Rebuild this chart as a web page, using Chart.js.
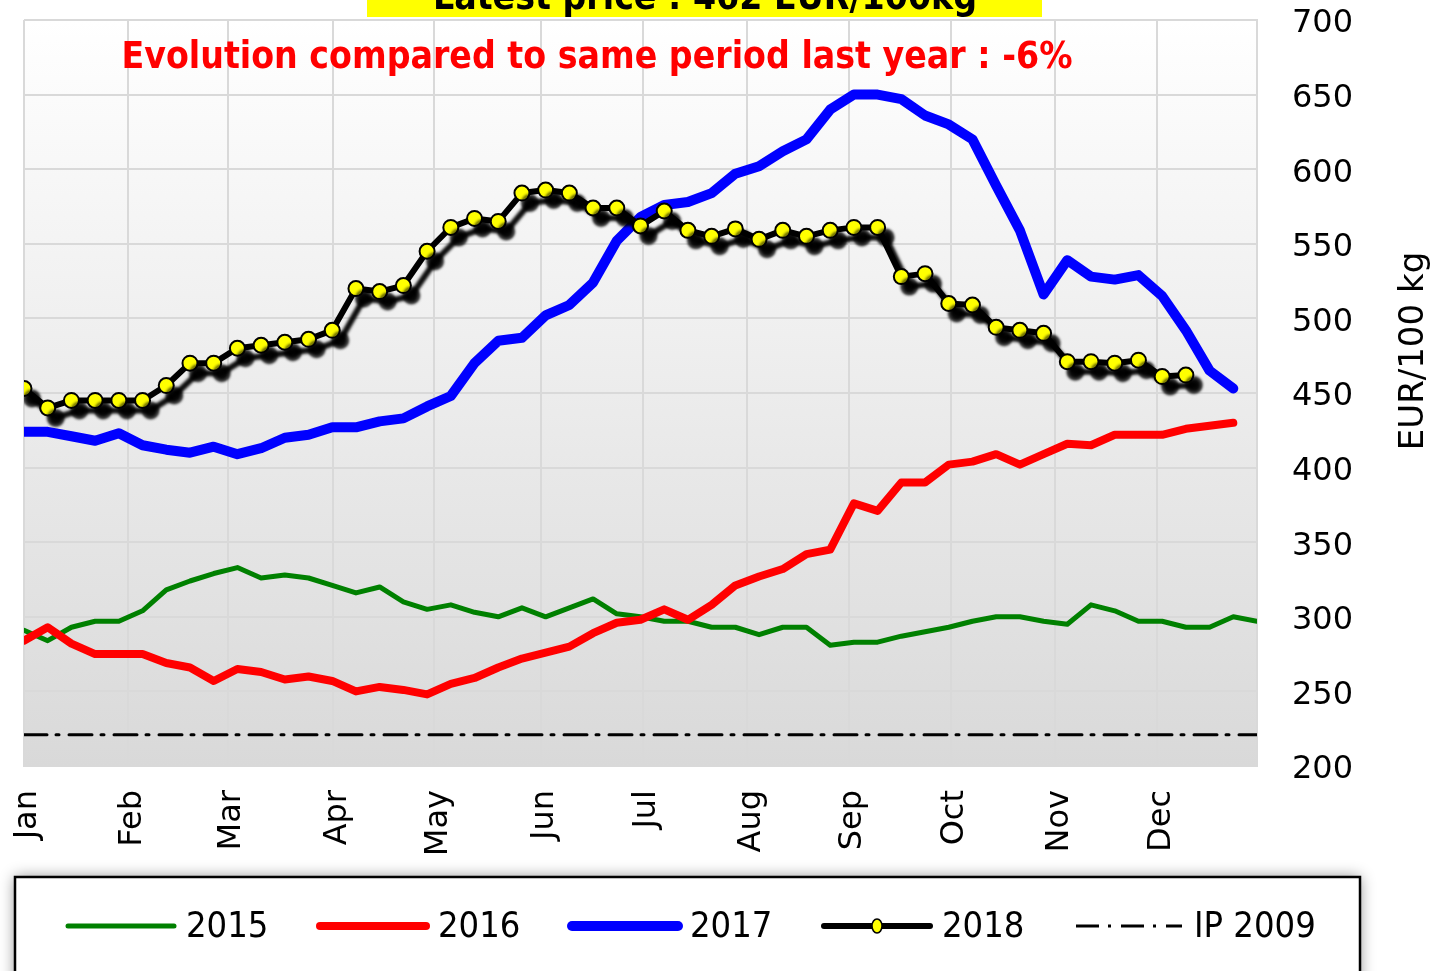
<!DOCTYPE html>
<html>
<head>
<meta charset="utf-8">
<script src="https://cdn.jsdelivr.net/npm/chart.js@4.4.1/dist/chart.umd.min.js"></script>
<style>
  html, body { margin: 0; padding: 0; background: #fff; overflow: hidden; }
  #wrap { position: relative; width: 1439px; height: 971px; }
</style>
</head>
<body>
<div id="wrap"><canvas id="priceChart" width="1439" height="971"></canvas></div>
<script>
// month labels and where they sit on the week axis
const monthLabels = ['Jan', 'Feb', 'Mar', 'Apr', 'May', 'Jun', 'Jul', 'Aug', 'Sep', 'Oct', 'Nov', 'Dec'];
const monthTicks = [0, 4.4, 8.6, 13.05, 17.3, 21.8, 26.1, 30.5, 34.8, 39.1, 43.5, 47.8];
const yTicks = [200, 250, 300, 350, 400, 450, 500, 550, 600, 650, 700];

// weekly prices, EUR/100 kg
const y2015 = [291, 284, 293, 297, 297, 304, 318, 324, 329, 333, 326, 328, 326, 321, 316, 320, 310, 305, 308, 303,
  300, 306, 300, 306, 312, 302, 300, 297, 297, 293, 293, 288, 293, 293, 281, 283, 283, 287, 290, 293,
  297, 300, 300, 297, 295, 308, 304, 297, 297, 293, 293, 300, 297];
const y2016 = [284, 293, 282, 275, 275, 275, 269, 266, 257, 265, 263, 258, 260, 257, 250, 253, 251, 248, 255, 259,
  266, 272, 276, 280, 289, 296, 298, 305, 298, 308, 321, 327, 332, 342, 345, 376, 371, 390, 390, 402,
  404, 409, 402, 409, 416, 415, 422, 422, 422, 426, 428, 430];
const y2017 = [424, 424, 421, 418, 423, 415, 412, 410, 414, 409, 413, 420, 422, 427, 427, 431, 433, 441, 448, 470,
  485, 487, 502, 509, 524, 552, 568, 576, 578, 584, 597, 602, 612, 620, 640, 650, 650, 647, 636, 630,
  620, 589, 559, 516, 539, 528, 526, 529, 515, 492, 465, 453];
const y2018 = [453, 440, 445, 445, 445, 445, 455, 470, 470, 480, 482, 484, 486, 492, 520, 518, 522, 545, 561, 567,
  565, 584, 586, 584, 574, 574, 562, 572, 559, 555, 560, 553, 559, 555, 559, 561, 561, 528, 530, 510,
  509, 494, 492, 490, 471, 471, 470, 472, 461, 462];
const ip2009 = 221;
const lastWeek = 52;

const toPoints = arr => arr.map((v, i) => ({ x: i, y: v }));

Chart.defaults.font.family = '"DejaVu Sans", Verdana, sans-serif';
Chart.defaults.color = '#000';

// grey gradient behind the plot
const plotBg = {
  id: 'plotBg',
  beforeDraw(chart) {
    const { ctx, chartArea: a } = chart;
    const g = ctx.createLinearGradient(0, a.top, 0, a.bottom);
    g.addColorStop(0, '#ffffff');
    g.addColorStop(1, '#d9d9d9');
    ctx.save();
    ctx.fillStyle = g;
    ctx.fillRect(a.left, a.top, a.right - a.left, a.bottom - a.top);
    ctx.restore();
  }
};

// drop shadow under the 2018 line
const shadow2018 = {
  id: 'shadow2018',
  beforeDatasetDraw(chart, args) {
    if (chart.data.datasets[args.index].label !== '2018') return;
    const ctx = chart.ctx;
    ctx.save();
    ctx.shadowColor = 'rgba(0,0,0,0.95)';
    ctx.shadowBlur = 3;
    ctx.shadowOffsetX = 8;
    ctx.shadowOffsetY = 10;
  },
  afterDatasetDraw(chart, args) {
    if (chart.data.datasets[args.index].label !== '2018') return;
    chart.ctx.restore();
  }
};

// titles, axis title and legend box
const extras = {
  id: 'extras',
  afterDraw(chart) {
    const ctx = chart.ctx;
    const cond = '"DejaVu Sans Condensed", "DejaVu Sans", sans-serif';
    ctx.save();

    // yellow title box (cut by the top edge)
    ctx.fillStyle = '#ffff00';
    ctx.fillRect(367, -40, 675, 57);
    ctx.fillStyle = '#000';
    ctx.font = 'bold 37px ' + cond;
    ctx.textAlign = 'center';
    ctx.textBaseline = 'alphabetic';
    ctx.fillText('Latest price : 462 EUR/100kg', 705, 9);

    // red subtitle
    ctx.fillStyle = '#ff0000';
    ctx.fillText('Evolution compared to same period last year : -6%', 597, 68);

    // y axis title
    ctx.save();
    ctx.translate(1414, 351);
    ctx.rotate(-Math.PI / 2);
    ctx.fillStyle = '#000';
    ctx.font = '34px "DejaVu Sans", sans-serif';
    ctx.textAlign = 'center';
    ctx.textBaseline = 'middle';
    ctx.fillText('EUR/100 kg', 0, 0);
    ctx.restore();

    // legend box
    ctx.save();
    ctx.shadowColor = 'rgba(0,0,0,0.45)';
    ctx.shadowBlur = 14;
    ctx.fillStyle = '#fff';
    ctx.fillRect(15, 877, 1345, 120);
    ctx.restore();
    ctx.lineWidth = 2.5;
    ctx.strokeStyle = '#000';
    ctx.strokeRect(15, 877, 1345, 120);

    const ly = 926;
    let lx = 68;
    ctx.font = '36px ' + cond;
    ctx.textAlign = 'left';
    ctx.textBaseline = 'middle';
    chart.data.datasets.forEach(ds => {
      ctx.save();
      ctx.strokeStyle = ds.borderColor;
      ctx.lineWidth = ds.borderWidth;
      ctx.lineCap = ds.borderDash ? 'butt' : 'round';
      ctx.setLineDash(ds.borderDash || []);
      ctx.beginPath();
      ctx.moveTo(lx, ly);
      ctx.lineTo(lx + 106, ly);
      ctx.stroke();
      if (ds.pointRadius > 0) {
        ctx.setLineDash([]);
        ctx.beginPath();
        ctx.ellipse(lx + 53, ly, 5, 7, 0, 0, Math.PI * 2);
        ctx.fillStyle = ds.pointBackgroundColor;
        ctx.fill();
        ctx.lineWidth = 1.5;
        ctx.strokeStyle = '#000';
        ctx.stroke();
      }
      ctx.restore();
      ctx.fillStyle = '#000';
      ctx.fillText(ds.label, lx + 118, ly + 2);
      lx += 252;
    });
    ctx.restore();
  }
};

new Chart(document.getElementById('priceChart'), {
  type: 'line',
  data: {
    datasets: [
      { label: '2015', data: toPoints(y2015), borderColor: '#008000', borderWidth: 5, pointRadius: 0, order: 3 },
      { label: '2016', data: toPoints(y2016), borderColor: '#ff0000', borderWidth: 8, pointRadius: 0, order: 2 },
      { label: '2017', data: toPoints(y2017), borderColor: '#0000ff', borderWidth: 10, pointRadius: 0, order: 1 },
      { label: '2018', data: toPoints(y2018), borderColor: '#000000', borderWidth: 6,
        pointRadius: 7.5, pointBackgroundColor: '#ffff00', pointBorderColor: '#000', pointBorderWidth: 2, order: 0 },
      { label: 'IP 2009', data: [{ x: 0, y: ip2009 }, { x: lastWeek, y: ip2009 }], borderColor: '#000',
        borderWidth: 3, borderDash: [23, 9, 3, 10], pointRadius: 0, order: 4 }
    ]
  },
  options: {
    responsive: false,
    animation: false,
    events: [],
    layout: { padding: { left: 22, top: 20, right: 0, bottom: 0 } },
    elements: { line: { tension: 0, borderJoinStyle: 'round', borderCapStyle: 'round' } },
    plugins: { legend: { display: false }, tooltip: { enabled: false } },
    scales: {
      x: {
        type: 'linear',
        min: 0,
        max: lastWeek,
        afterBuildTicks: s => { s.ticks = monthTicks.map(v => ({ value: v })); },
        afterFit: s => { s.height = 205; },
        grid: { color: '#d9d9d9', lineWidth: 2, drawTicks: false },
        border: { color: '#d9d9d9', width: 2 },
        ticks: {
          autoSkip: false,
          maxRotation: 90,
          minRotation: 90,
          padding: 24,
          labelOffset: 4,
          font: { size: 32 },
          callback: (v, i) => monthLabels[i]
        }
      },
      y: {
        position: 'right',
        min: 200,
        max: 700,
        afterBuildTicks: s => { s.ticks = yTicks.map(v => ({ value: v })); },
        afterFit: s => { s.width = 182; s.paddingTop = 0; s.paddingBottom = 0; },
        grid: { color: '#d9d9d9', lineWidth: 2, drawTicks: false },
        border: { color: '#d9d9d9', width: 2 },
        ticks: { padding: 35, labelOffset: 4, font: { size: 32 } }
      }
    }
  },
  plugins: [plotBg, shadow2018, extras]
});
</script>
</body>
</html>
